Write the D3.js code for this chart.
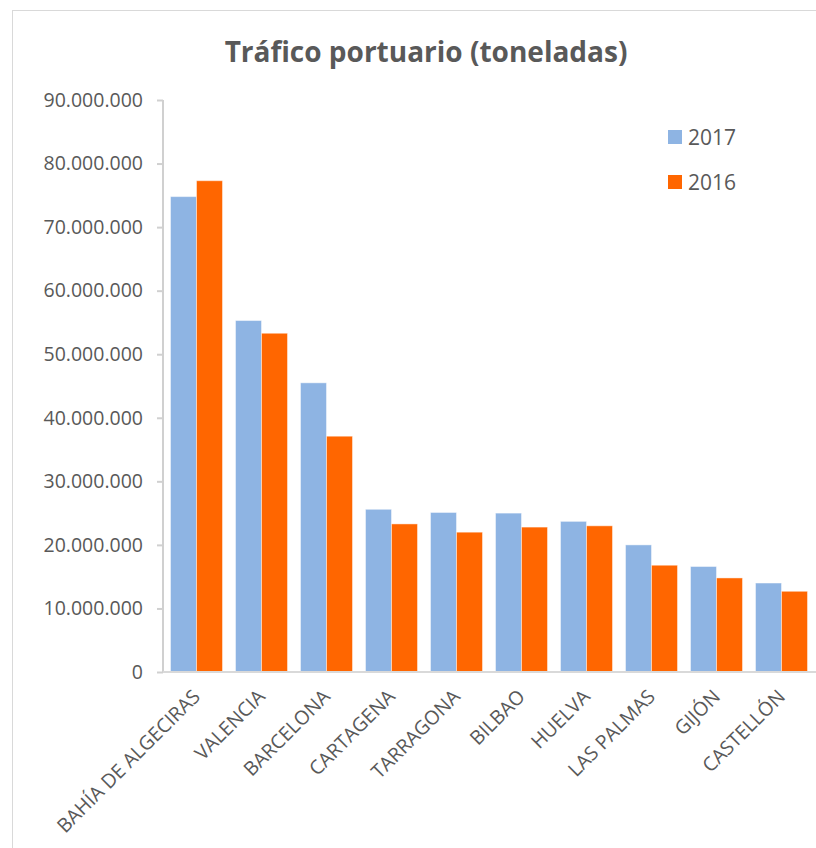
<!DOCTYPE html>
<html>
<head>
<meta charset="utf-8">
<script src="https://cdn.jsdelivr.net/npm/d3@7"></script>
<style>
  body { margin: 0; background: #fff; }
  text { font-family: "Open Sans", sans-serif; fill: #595959; }
</style>
</head>
<body>
<svg width="816" height="848"></svg>
<script>
var categories = ["BAHÍA DE ALGECIRAS", "VALENCIA", "BARCELONA", "CARTAGENA", "TARRAGONA",
                  "BILBAO", "HUELVA", "LAS PALMAS", "GIJÓN", "CASTELLÓN"];
var series = ["2017", "2016"];
var values2017 = [74.8e6, 55.3e6, 45.5e6, 25.6e6, 25.1e6, 25.0e6, 23.7e6, 20.0e6, 16.6e6, 14.0e6];
var values2016 = [77.3e6, 53.3e6, 37.1e6, 23.3e6, 22.0e6, 22.8e6, 23.0e6, 16.8e6, 14.8e6, 12.7e6];
var yTicks = [0, 10e6, 20e6, 30e6, 40e6, 50e6, 60e6, 70e6, 80e6, 90e6];

var colors = {"2017": "#8eb4e3", "2016": "#ff6600"};

var svg = d3.select("svg");

// chart border
svg.append("rect")
    .attr("x", 12.5).attr("y", 10.5)
    .attr("width", 830).attr("height", 850)
    .attr("fill", "none").attr("stroke", "#d9d9d9");

var x = d3.scaleBand().domain(categories).range([164, 814])
    .paddingInner(0.2).paddingOuter(0.1);
var xs = d3.scaleBand().domain(series).range([0, x.bandwidth()]);
var y = d3.scaleLinear().domain([0, 90e6]).range([672, 100]);

var locale = d3.formatLocale({decimal: ",", thousands: ".", grouping: [3], currency: ["", "€"]});
var fmt = locale.format(",d");

// title
svg.append("text")
    .attr("x", 426).attr("y", 62)
    .attr("text-anchor", "middle")
    .style("font-size", "28px").style("font-weight", "bold")
    .text("Tráfico portuario (toneladas)");

// y axis
var yAxis = svg.append("g")
    .attr("transform", "translate(163,0)")
    .call(d3.axisLeft(y).tickValues(yTicks).tickFormat(function(d) { return d === 0 ? "0" : fmt(d); })
        .tickSize(6).tickPadding(14));
yAxis.selectAll("text").style("font-size", "19.5px").attr("fill", "#595959");
yAxis.selectAll("line").attr("stroke", "#d0d0d0").attr("stroke-width", 2);
yAxis.select(".domain").attr("stroke", "#d0d0d0").attr("stroke-width", 2).attr("d", "M0,100V672");

// bars
var rows = categories.map(function(c, i) {
  return {cat: c, vals: [{s: "2017", v: values2017[i]}, {s: "2016", v: values2016[i]}]};
});

var groups = svg.append("g").selectAll("g")
    .data(rows).enter().append("g")
    .attr("transform", function(d) { return "translate(" + x(d.cat) + ",0)"; });

groups.selectAll("rect")
    .data(function(d) { return d.vals; })
    .enter().append("rect")
    .attr("x", function(d) { return xs(d.s); })
    .attr("y", function(d) { return y(d.v); })
    .attr("width", xs.bandwidth())
    .attr("height", function(d) { return y(0) - y(d.v); })
    .attr("fill", function(d) { return colors[d.s]; })
    .attr("stroke", "#ffffff").attr("stroke-opacity", 0.45).attr("stroke-width", 1);

// x axis line
svg.append("line")
    .attr("x1", 163).attr("x2", 816)
    .attr("y1", 672).attr("y2", 672)
    .attr("stroke", "#d9d9d9").attr("stroke-width", 2);

// category labels, rotated
svg.append("g").selectAll("text")
    .data(categories).enter().append("text")
    .attr("transform", function(d) {
      return "translate(" + (x(d) + x.bandwidth() / 2) + ",693) rotate(-45)";
    })
    .attr("text-anchor", "end")
    .attr("dy", "0.35em")
    .style("font-size", "19.5px")
    .text(function(d) { return d; });

// legend
var legend = svg.append("g").selectAll("g")
    .data(series).enter().append("g")
    .attr("transform", function(d, i) { return "translate(668," + (130 + i * 45) + ")"; });
legend.append("rect")
    .attr("width", 14).attr("height", 14)
    .attr("fill", function(d) { return colors[d]; });
legend.append("text")
    .attr("x", 20).attr("y", 7).attr("dy", "0.36em")
    .style("font-size", "21px")
    .text(function(d) { return d; });
</script>
</body>
</html>
